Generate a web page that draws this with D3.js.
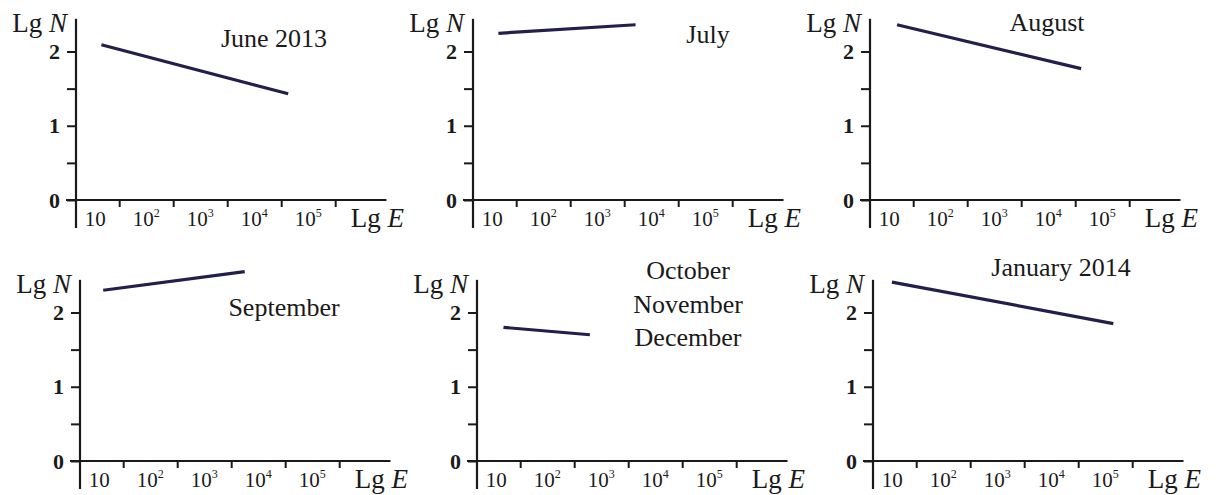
<!DOCTYPE html>
<html>
<head>
<meta charset="utf-8">
<script src="https://cdn.jsdelivr.net/npm/d3@7"></script>
<style>
  html, body { margin: 0; padding: 0; background: #fff; }
  svg { display: block; font-family: "Liberation Serif", "Times New Roman", serif; }
  .axis path.domain { display: none; }
  .axis line { stroke: #1a1a1a; stroke-width: 2; }
  .axis text { font-family: "Liberation Serif", serif; fill: #1a1a1a; }
</style>
</head>
<body>
<svg id="chart" width="1218" height="495"></svg>
<script>
// Monthly regression lines Lg N versus Lg E (six periods)
const periodTitles = [
  ["June 2013"],
  ["July"],
  ["August"],
  ["September"],
  ["October", "November", "December"],
  ["January 2014"]
];
const lgEStart = [1.17, 1.17, 1.20, 1.13, 1.19, 1.05];
const lgEEnd   = [4.63, 3.71, 4.61, 3.75, 2.79, 5.15];
const lgNStart = [2.09, 2.245, 2.36, 2.30, 1.80, 2.41];
const lgNEnd   = [1.43, 2.36, 1.77, 2.55, 1.70, 1.85];

const yTickValues = [0, 0.5, 1, 1.5, 2];
const xTickValues = [1.5, 2.5, 3.5, 4.5, 5.5];   // decade boundaries
const xLabelPowers = [1, 2, 3, 4, 5];             // 10, 10², ... 10⁵

// Panel placement: origin = where the axes cross
const panelOrigins = [
  { x: 76,  y: 200 }, { x: 473, y: 200 }, { x: 870, y: 200 },
  { x: 80,  y: 461 }, { x: 477, y: 461 }, { x: 873, y: 461 }
];
// Title anchor (centre x offset, first baseline offset from origin)
const titleOffsets = [
  { dx: 198, dy: -153 }, { dx: 235, dy: -157 }, { dx: 177, dy: -169 },
  { dx: 204, dy: -145 }, { dx: 211, dy: -182 }, { dx: 188, dy: -185 }
];

const svg = d3.select("#chart");
const ink = "#1a1a1a";
const lineColor = "#221f4d";

const x = d3.scaleLinear().domain([0.7, 6.45]).range([0, 310.5]);
const y = d3.scaleLinear().domain([0, 2]).range([0, -148.5]);

const superscripts = { 2: "2", 3: "3", 4: "4", 5: "5" };

panelOrigins.forEach((o, i) => {
  const g = svg.append("g").attr("transform", `translate(${o.x},${o.y})`);

  // axis lines
  g.append("line")
    .attr("x1", 0).attr("x2", 0)
    .attr("y1", 28).attr("y2", y(2.44))
    .attr("stroke", ink).attr("stroke-width", 2.2);
  g.append("line")
    .attr("x1", -10).attr("x2", x(6.45))
    .attr("y1", 0).attr("y2", 0)
    .attr("stroke", ink).attr("stroke-width", 2.2);

  // y ticks
  g.append("g").attr("class", "axis")
    .call(d3.axisLeft(y)
      .tickValues(yTickValues)
      .tickSize(9)
      .tickPadding(7)
      .tickFormat(d => Number.isInteger(d) ? String(d) : ""))
    .call(s => s.selectAll(".tick text")
      .attr("font-size", 22).attr("font-weight", "bold"));

  // x ticks (decade boundaries, pointing down)
  g.append("g").attr("class", "axis")
    .call(d3.axisBottom(x)
      .tickValues(xTickValues)
      .tickSize(7)
      .tickFormat(""));

  // x tick labels 10, 10², ...
  const lbl = g.append("g").selectAll("text")
    .data(xLabelPowers).join("text")
    .attr("x", d => x(d) + (d === 1 ? 3 : 0))
    .attr("y", 26)
    .attr("text-anchor", "middle")
    .attr("font-size", 21)
    .attr("fill", ink);
  lbl.append("tspan").text("10");
  lbl.filter(d => d > 1).append("tspan")
    .attr("dy", -9).attr("font-size", 12)
    .text(d => superscripts[d]);

  // axis titles
  const ty = g.append("text")
    .attr("x", -9).attr("y", -168)
    .attr("text-anchor", "end")
    .attr("font-size", 27).attr("fill", ink);
  ty.append("tspan").text("Lg ");
  ty.append("tspan").attr("font-style", "italic").text("N");

  const tx = g.append("text")
    .attr("x", 328).attr("y", 27)
    .attr("text-anchor", "end")
    .attr("font-size", 27).attr("fill", ink);
  tx.append("tspan").text("Lg ");
  tx.append("tspan").attr("font-style", "italic").text("E");

  // regression line
  const pts = [[lgEStart[i], lgNStart[i]], [lgEEnd[i], lgNEnd[i]]];
  g.append("path")
    .datum(pts)
    .attr("d", d3.line().x(d => x(d[0])).y(d => y(d[1])))
    .attr("fill", "none")
    .attr("stroke", lineColor)
    .attr("stroke-width", 3.2);

  // period title
  const t = titleOffsets[i];
  g.append("text")
    .attr("text-anchor", "middle")
    .attr("font-size", 26)
    .attr("fill", ink)
    .selectAll("tspan")
    .data(periodTitles[i]).join("tspan")
    .attr("x", t.dx)
    .attr("y", (d, k) => t.dy + k * 33.5)
    .text(d => d);
});
</script>
</body>
</html>
